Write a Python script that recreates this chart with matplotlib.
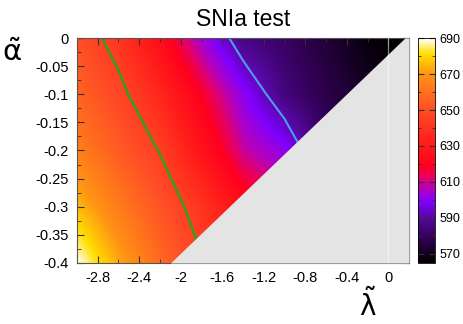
import numpy as np
import matplotlib
matplotlib.use("Agg")
import matplotlib.pyplot as plt
from matplotlib.colors import LinearSegmentedColormap

# ---- data ----
lam = [-3.0, -2.6, -2.2, -1.8, -1.4, -1.0, -0.6, -0.2, 0.2]
alp = [0.0, -0.1, -0.2, -0.3, -0.4]
chi2 = [
    [651, 641, 624, 604, 586, 581, 574, 567, 563],
    [656, 648, 635, 618, 601, 585, 577, 571, 566],
    [664, 654, 644.5, 627, 609, 601, 580, 576, 572],
    [676, 663, 652, 640, 624, 612, 598, 588, 580],
    [690, 673, 658, 646, 634, 622, 608, 596, 586],
]
contour_levels = [592, 645]
contour_colors = ['#4aa0e6', '#3c9a1c']
excl_alpha = [0.0, -0.4]
excl_lambda = [0.16, -2.1]
xticks = [-2.8, -2.4, -2.0, -1.6, -1.2, -0.8, -0.4, 0.0]
xticklabels = ['-2.8', '-2.4', '-2', '-1.6', '-1.2', '-0.8', '-0.4', '0']
yticks = [0, -0.05, -0.1, -0.15, -0.2, -0.25, -0.3, -0.35, -0.4]
yticklabels = ['0', '-0.05', '-0.1', '-0.15', '-0.2', '-0.25', '-0.3', '-0.35', '-0.4']
cbar_ticks = [570, 590, 610, 630, 650, 670, 690]
vmin, vmax = 565, 690

plt.rcParams['font.family'] = ['Liberation Sans', 'DejaVu Sans']

cmap = LinearSegmentedColormap.from_list('pal', [
    (0.00, (0.0, 0.0, 0.0)),
    (0.10, (0.18, 0.0, 0.30)),
    (0.20, (0.33, 0.03, 0.62)),
    (0.27, (0.50, 0.0, 1.0)),
    (0.33, (0.70, 0.0, 0.75)),
    (0.38, (0.90, 0.0, 0.40)),
    (0.43, (1.0, 0.0, 0.12)),
    (0.52, (1.0, 0.1, 0.1)),
    (0.68, (1.0, 0.3, 0.15)),
    (0.84, (1.0, 0.58, 0.08)),
    (0.93, (1.0, 0.87, 0.0)),
    (1.00, (1.0, 1.0, 1.0)),
])

fig = plt.figure(figsize=(4.63, 3.24), dpi=100)
ax = fig.add_axes([0.1663, 0.1883, 0.7171, 0.6944])
cax = fig.add_axes([0.9028, 0.1883, 0.0367, 0.6944])

Z = np.array(chi2, dtype=float)
dx = (lam[1] - lam[0]) / 2
dy = (alp[0] - alp[1]) / 2
im = ax.imshow(Z, cmap=cmap, vmin=vmin, vmax=vmax, interpolation='bilinear',
               interpolation_stage='data', origin='upper', aspect='auto',
               extent=[lam[0] - dx, lam[-1] + dx, alp[-1] - dy, alp[0] + dy], zorder=1)
X, Y = np.meshgrid(lam, alp)
ax.contour(X, Y, Z, levels=contour_levels, colors=contour_colors, linewidths=[1.5, 1.9], zorder=2)
ax.fill_betweenx(excl_alpha, excl_lambda, lam[-1], color='#e4e4e4', lw=0, zorder=3)
ax.axvline(0, color='white', alpha=0.55, lw=0.9, zorder=4)

ax.set_xlim(lam[0], lam[-1])
ax.set_ylim(alp[-1], alp[0])
ax.set_xticks(xticks)
ax.set_xticklabels(xticklabels)
ax.set_yticks(yticks)
ax.set_yticklabels(yticklabels)
ax.set_xticks(np.arange(-3.0, 0.21, 0.2), minor=True)
ax.set_yticks(np.arange(-0.4, 0.001, 0.025), minor=True)
ax.tick_params(which='both', direction='in', top=True, right=True, labelsize=10.5, color='#333333')
ax.tick_params(which='major', length=5, width=0.8, pad=6)
ax.tick_params(which='minor', length=3, width=0.6)
for s in ax.spines.values():
    s.set_color('#555555')
    s.set_linewidth(0.8)

ax.set_title('SNIa test', fontsize=16.5, pad=9)
fig.text(0.026, 0.835, r'$\tilde{\mathrm{\alpha}}$', fontsize=21, ha='center', va='center')
fig.text(0.795, 0.058, r'$\tilde{\mathrm{\lambda}}$', fontsize=20, ha='center', va='center')

cb = fig.colorbar(im, cax=cax, ticks=cbar_ticks)
cb.ax.set_yticks(np.arange(570, 691, 10), minor=True)
cb.ax.tick_params(which='both', direction='in', left=True, right=True, labelsize=9, color='#333333')
cb.ax.tick_params(which='major', length=4)
cb.ax.tick_params(which='minor', length=2)
cb.outline.set_linewidth(0.6)

fig.savefig('out.png', dpi=100)
